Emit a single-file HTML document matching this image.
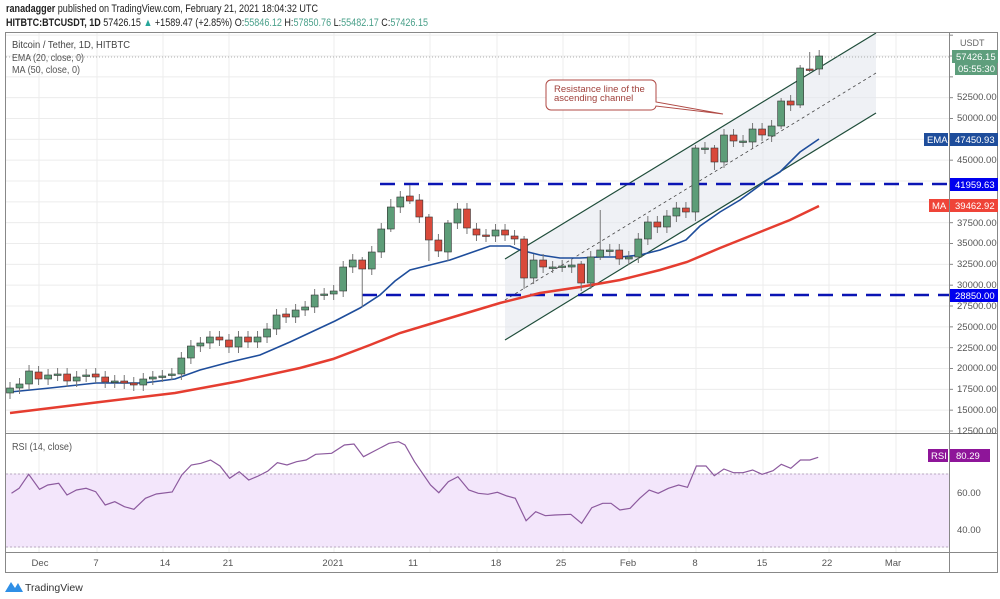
<!DOCTYPE html>
<html><head><meta charset="utf-8"><style>
body{margin:0;background:#fff;width:1000px;height:599px;overflow:hidden}
svg{display:block;font-family:"Liberation Sans",sans-serif}
</style></head><body>
<svg id="s" width="1000" height="599" viewBox="0 0 1000 599" xmlns="http://www.w3.org/2000/svg">
<rect width="1000" height="599" fill="#fff"/>
<g id="grid" stroke="#ececec" stroke-width="1"></g>
<rect x="6" y="474" width="943" height="73" fill="#f3e6fb"/>
<line x1="6" y1="474" x2="949" y2="474" stroke="#b8a8c0" stroke-dasharray="2,2"/>
<line x1="6" y1="547" x2="949" y2="547" stroke="#b8a8c0" stroke-dasharray="2,2"/>
<polygon points="505,259 876,33 876,113 505,340" fill="#e4e7ee" opacity="0.6"/>
<line x1="505" y1="259" x2="876" y2="33" stroke="#1f4d3a" stroke-width="1.2"/>
<line x1="505" y1="340" x2="876" y2="113" stroke="#1f4d3a" stroke-width="1.2"/>
<line x1="505" y1="300" x2="876" y2="73" stroke="#444" stroke-width="0.8" stroke-dasharray="3,3"/>
<line x1="6" y1="57" x2="949" y2="57" stroke="#999" stroke-width="0.8" stroke-dasharray="1,2"/>
<line x1="380" y1="184" x2="949" y2="184" stroke="#0a14b4" stroke-width="2.5" stroke-dasharray="15,9"/>
<line x1="362" y1="295" x2="949" y2="295" stroke="#0a14b4" stroke-width="2.5" stroke-dasharray="15,9"/>
<polyline fill="none" stroke="#e53d30" stroke-width="2.5" points="10,413 100,402 175,393 240,381 300,368 333,359 370,345 400,333 430,324 450,318 500,303 540,293 580,287 620,280 660,270 687,262 720,248 760,232 790,220 819,206"/>
<polyline fill="none" stroke="#1e4d9b" stroke-width="1.6" points="10,392 50,388 96,383 144,383 175,379 200,370 230,362 260,355 290,342 320,328 335,321 360,308 380,295 395,281 410,270 430,265 450,260 470,253 490,246 510,246 520,250 540,255 560,258 580,258 600,257 620,257 640,255 660,250 686,240 700,226 720,212 740,200 767,180 780,172 800,152 819,139"/>
<g id="candles"></g>
<path d="M551,80 h100 a5,5 0 0 1 5,5 v17 L723,114 L656,106 a5,5 0 0 1 -5,4 h-100 a5,5 0 0 1 -5,-5 v-20 a5,5 0 0 1 5,-5z" fill="#fff" stroke="#b04a45" stroke-width="1"/>
<text x="554" y="92" font-size="9.5" fill="#a0413c">Resistance line of the</text>
<text x="554" y="101" font-size="9.5" fill="#a0413c">ascending channel</text>
<polyline id="rsi" fill="none" stroke="#8c5a9e" stroke-width="1.2"/>
<rect x="5.5" y="32.5" width="992" height="540" fill="none" stroke="#888"/>
<line x1="949.5" y1="32" x2="949.5" y2="573" stroke="#888"/>
<line x1="5" y1="433.5" x2="998" y2="433.5" stroke="#888"/>
<line x1="5" y1="552.5" x2="998" y2="552.5" stroke="#888"/>
<text x="6" y="12" font-size="11" fill="#222" textLength="312" lengthAdjust="spacingAndGlyphs"><tspan font-weight="bold">ranadagger</tspan> published on TradingView.com, February 21, 2021 18:04:32 UTC</text>
<text x="6" y="26" font-size="11" fill="#222" textLength="422" lengthAdjust="spacingAndGlyphs"><tspan font-weight="bold">HITBTC:BTCUSDT, 1D</tspan> 57426.15 <tspan fill="#26a69a">▲</tspan> +1589.47 (+2.85%) O:<tspan fill="#4aa08a">55846.12</tspan> H:<tspan fill="#4aa08a">57850.76</tspan> L:<tspan fill="#4aa08a">55482.17</tspan> C:<tspan fill="#4aa08a">57426.15</tspan></text>
<text x="12" y="48" font-size="10.5" fill="#444" textLength="118" lengthAdjust="spacingAndGlyphs">Bitcoin / Tether, 1D, HITBTC</text>
<text x="12" y="61" font-size="10.5" fill="#555" textLength="72" lengthAdjust="spacingAndGlyphs">EMA (20, close, 0)</text>
<text x="12" y="73" font-size="10.5" fill="#555" textLength="68" lengthAdjust="spacingAndGlyphs">MA (50, close, 0)</text>
<text x="12" y="450" font-size="10.5" fill="#555" textLength="60" lengthAdjust="spacingAndGlyphs">RSI (14, close)</text>
<text x="960" y="46" font-size="9" fill="#666">USDT</text>
<rect x="952" y="50" width="46" height="13" fill="#5e9e7c"/><text x="956" y="60" font-size="9.5" fill="#fff">57426.15</text>
<rect x="955" y="63" width="42" height="12" fill="#5e9e7c"/><text x="958" y="72" font-size="9.5" fill="#fff">05:55:30</text>
<rect x="924" y="133" width="24" height="13" fill="#1e4d9b"/><text x="927" y="143" font-size="9.5" fill="#fff">EMA</text>
<rect x="950" y="133" width="48" height="13" fill="#1e4d9b"/><text x="955" y="143" font-size="9.5" fill="#fff">47450.93</text>
<rect x="950" y="178" width="48" height="13" fill="#0000ee"/><text x="955" y="188" font-size="9.5" fill="#fff">41959.63</text>
<rect x="929" y="199" width="20" height="13" fill="#ef4438"/><text x="932" y="209" font-size="9.5" fill="#fff">MA</text>
<rect x="950" y="199" width="48" height="13" fill="#ef4438"/><text x="955" y="209" font-size="9.5" fill="#fff">39462.92</text>
<rect x="950" y="289" width="48" height="13" fill="#0000ee"/><text x="955" y="299" font-size="9.5" fill="#fff">28850.00</text>
<text x="957" y="496" font-size="9.5" fill="#555">60.00</text>
<text x="957" y="533" font-size="9.5" fill="#555">40.00</text>
<rect x="928" y="449" width="20" height="13" fill="#8e1599"/><text x="931" y="459" font-size="9.5" fill="#fff">RSI</text>
<rect x="950" y="449" width="40" height="13" fill="#8e1599"/><text x="956" y="459" font-size="9.5" fill="#fff">80.29</text>
<g font-size="9.5" fill="#555" text-anchor="middle">
<text x="40" y="566">Dec</text><text x="96" y="566">7</text><text x="165" y="566">14</text><text x="228" y="566">21</text><text x="333" y="566">2021</text><text x="413" y="566">11</text><text x="496" y="566">18</text><text x="561" y="566">25</text><text x="628" y="566">Feb</text><text x="695" y="566">8</text><text x="762" y="566">15</text><text x="827" y="566">22</text><text x="893" y="566">Mar</text>
</g>
<g font-size="9.5" fill="#555">
<text x="957" y="434">12500.00</text><text x="957" y="413">15000.00</text><text x="957" y="392">17500.00</text><text x="957" y="371">20000.00</text><text x="957" y="351">22500.00</text><text x="957" y="330">25000.00</text><text x="957" y="309">27500.00</text><text x="957" y="288">30000.00</text><text x="957" y="267">32500.00</text><text x="957" y="246">35000.00</text><text x="957" y="226">37500.00</text><text x="957" y="163">45000.00</text><text x="957" y="121">50000.00</text><text x="957" y="100">52500.00</text>
</g>
<path d="M5,592 l6,-10 l4,6 l3,-5 l5,9z" fill="#2f8fe6"/>
<text x="25" y="591" font-size="10.5" fill="#333">TradingView</text>
</svg>
<script>
var NS="http://www.w3.org/2000/svg";
function el(p,t,a){var e=document.createElementNS(NS,t);for(var k in a)e.setAttribute(k,a[k]);p.appendChild(e);return e;}
var g=document.getElementById('grid');
[39,97,163,229,334,430,497,563,629,696,763,829,896].forEach(function(x){el(g,'line',{x1:x,y1:33,x2:x,y2:552});});
for(var p=12500;p<=60000;p+=2500){var y=431-(p-12500)*0.008333;el(g,'line',{x1:6,y1:y,x2:949,y2:y});
 el(g,'line',{x1:949,y1:y,x2:953,y2:y,stroke:'#888'});}
[474,492,510,529,547].forEach(function(y){el(g,'line',{x1:6,y1:y,x2:949,y2:y});});
var C=[[388,393,1],[384,388,1],[371,384,1],[372,379,0],[375,379,1],[374,375,1],[374,381,0],[377,381,1],[375,376,1],[374,377,0],[377,382,0],[381,382,1],[381,383,0],[383,385,0],[379,385,1],[377,379,1],[376,376,1],[374,374,1],[358,374,1],[346,358,1],[343,346,1],[337,343,1],[337,340,0],[340,347,0],[337,347,1],[337,342,0],[337,342,1],[329,337,1],[315,329,1],[314,317,0],[310,317,1],[307,310,1],[295,307,1],[294,294,1],[291,294,1],[267,291,1],[260,267,1],[260,269,0],[252,269,1],[229,252,1],[207,229,1],[197,207,1],[196,201,0],[200,217,0],[217,240,0],[240,251,0],[223,252,1],[209,223,1],[209,228,0],[229,235,0],[235,236,0],[230,236,1],[230,235,0],[236,239,0],[239,278,0],[260,278,1],[260,267,0],[267,267,1],[266,266,1],[265,267,1],[264,283,0],[257,283,1],[250,257,1],[250,250,1],[250,259,0],[257,259,1],[239,257,1],[222,239,1],[222,227,0],[216,227,1],[208,216,1],[208,212,0],[148,212,1],[148,148,1],[148,162,0],[135,162,1],[135,141,0],[141,141,1],[129,142,1],[129,135,0],[126,136,1],[101,126,1],[101,105,0],[68,105,1],[69,69,0],[56,69,1]];
var W={37:[0,35],40:[5,0],42:[8,0],44:[0,18],46:[0,6],54:[0,8],60:[0,5],62:[37,0],72:[0,6],74:[0,5],81:[0,0],83:[0,0],84:[14,0]};
var cg=document.getElementById('candles');
C.forEach(function(c,i){var x=10+i*9.52;var w=W[i]||[3,3];var col=c[2]?'#5d9d78':'#d9493a';
 el(cg,'line',{x1:x,y1:c[0]-3-w[0],x2:x,y2:c[1]+3+w[1],stroke:'#777','stroke-width':1});
 var h=Math.max(c[1]-c[0],1.5);el(cg,'rect',{x:x-3.5,y:c[0],width:7,height:h,fill:col,stroke:'#333','stroke-width':0.6});});
var R=[[18,190],[30,175],[45,133],[62,178],[75,165],[92,160],[105,195],[120,180],[135,175],[150,185],[165,225],[180,215],[195,230],[210,238],[228,205],[245,192],[270,186],[285,135],[300,105],[315,100],[330,90],[345,108],[360,145],[375,125],[390,150],[405,138],[420,123],[435,98],[450,105],[465,95],[480,90],[495,73],[520,70],[540,45],[555,42],[570,80],[590,60],[610,40],[625,35],[635,45],[650,95],[675,165],[688,188],[703,155],[718,140],[735,180],[750,190],[765,193],[780,187],[795,198],[808,205],[825,272],[840,245],[855,257],[870,255],[895,253],[912,280],[928,233],[945,220],[958,220],[972,240],[988,235],[1003,205],[1018,180],[1032,190],[1048,175],[1064,165],[1078,172],[1092,108],[1107,108],[1120,137],[1135,117],[1150,128],[1165,128],[1180,120],[1195,133],[1212,122],[1225,103],[1240,115],[1255,90],[1270,90],[1283,82]];
document.getElementById('rsi').setAttribute('points',R.map(function(p){return (p[0]/1.568).toFixed(1)+','+(430+p[1]/3).toFixed(1);}).join(' '));
</script>
</body></html>
